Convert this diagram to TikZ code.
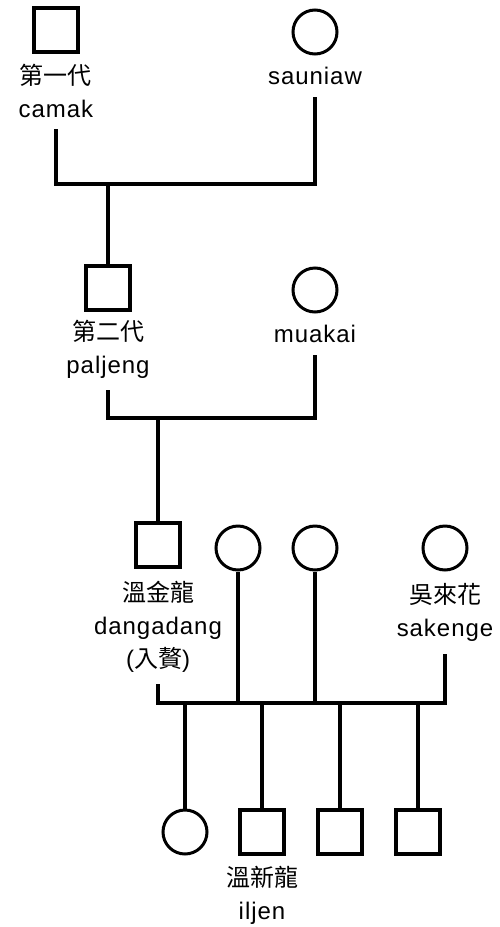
\documentclass[tikz,border=0pt]{standalone}
\usepackage{fontspec}
\setmainfont{Liberation Sans}[LetterSpace=4]
\newfontfamily\cjk{Noto Sans CJK TC}
\usetikzlibrary{positioning}

\begin{document}
\begin{tikzpicture}[x=1pt, y=-1pt, line width=4pt,
        male/.style = {draw, rectangle, minimum size=44pt, inner sep=0pt, line width=3.5pt},
        female/.style = {draw, circle, minimum size=44pt, inner sep=0pt, line width=3pt},
        namebox/.style = {align=center, inner sep=0pt, font=\fontsize{24}{33}\selectfont}]
    \useasboundingbox (0,0) rectangle (500,927);
    % first generation
    \node[male] (1) at (56,30) {};
    \node[female] (2) at (315,32) {};
    \node[namebox] (n1) [below=8pt of 1] {{\cjk 第一代}\\camak};
    \node[namebox] (n2) [below=10pt of 2] {sauniaw};
    \coordinate (m1) at (108,184);
    % second generation
    \node[male] (3) at (108,288) {};
    \node[female] (4) at (315,290) {};
    \node[namebox] (n3) [below=6pt of 3] {{\cjk 第二代}\\paljeng};
    \node[namebox] (n4) [below=10pt of 4] {muakai};
    \coordinate (m2) at (158,418);
    % third generation
    \node[male] (5) at (158,545) {};
    \node[female] (6) at (238,548) {};
    \node[female] (7) at (315,548) {};
    \node[female] (8) at (445,548) {};
    \node[namebox] (n5) [below=10pt of 5] {{\cjk 溫金龍}\\dangadang\\({\cjk 入贅})};
    \node[namebox] (n8) [below=10pt of 8] {{\cjk 吳來花}\\sakenge};
    \coordinate (m3) at (300,703);
    % fourth generation
    \node[female] (9) at (185,832) {};
    \node[male] (10) at (262,832) {};
    \node[male] (11) at (340,832) {};
    \node[male] (12) at (418,832) {};
    \node[namebox] (n10) [below=8pt of 10] {{\cjk 溫新龍}\\iljen};

    \draw[shorten <=10pt, shorten >=10pt] (n1.south) |- (m1) -| (n2.south);
    \draw (m1) -- (3);
    \draw[shorten <=10pt, shorten >=10pt] (n3.south) |- (m2) -| (n4.south);
    \draw (m2) -- (5);
    \draw[shorten <=10pt, shorten >=10pt] (n5.south) |- (m3) -| (n8.south);
    \draw (6) -- (6 |- m3);
    \draw (7) -- (7 |- m3);
    \draw (9 |- m3) -- (9);
    \draw (10 |- m3) -- (10);
    \draw (11 |- m3) -- (11);
    \draw (12 |- m3) -- (12);
\end{tikzpicture}
\end{document}
